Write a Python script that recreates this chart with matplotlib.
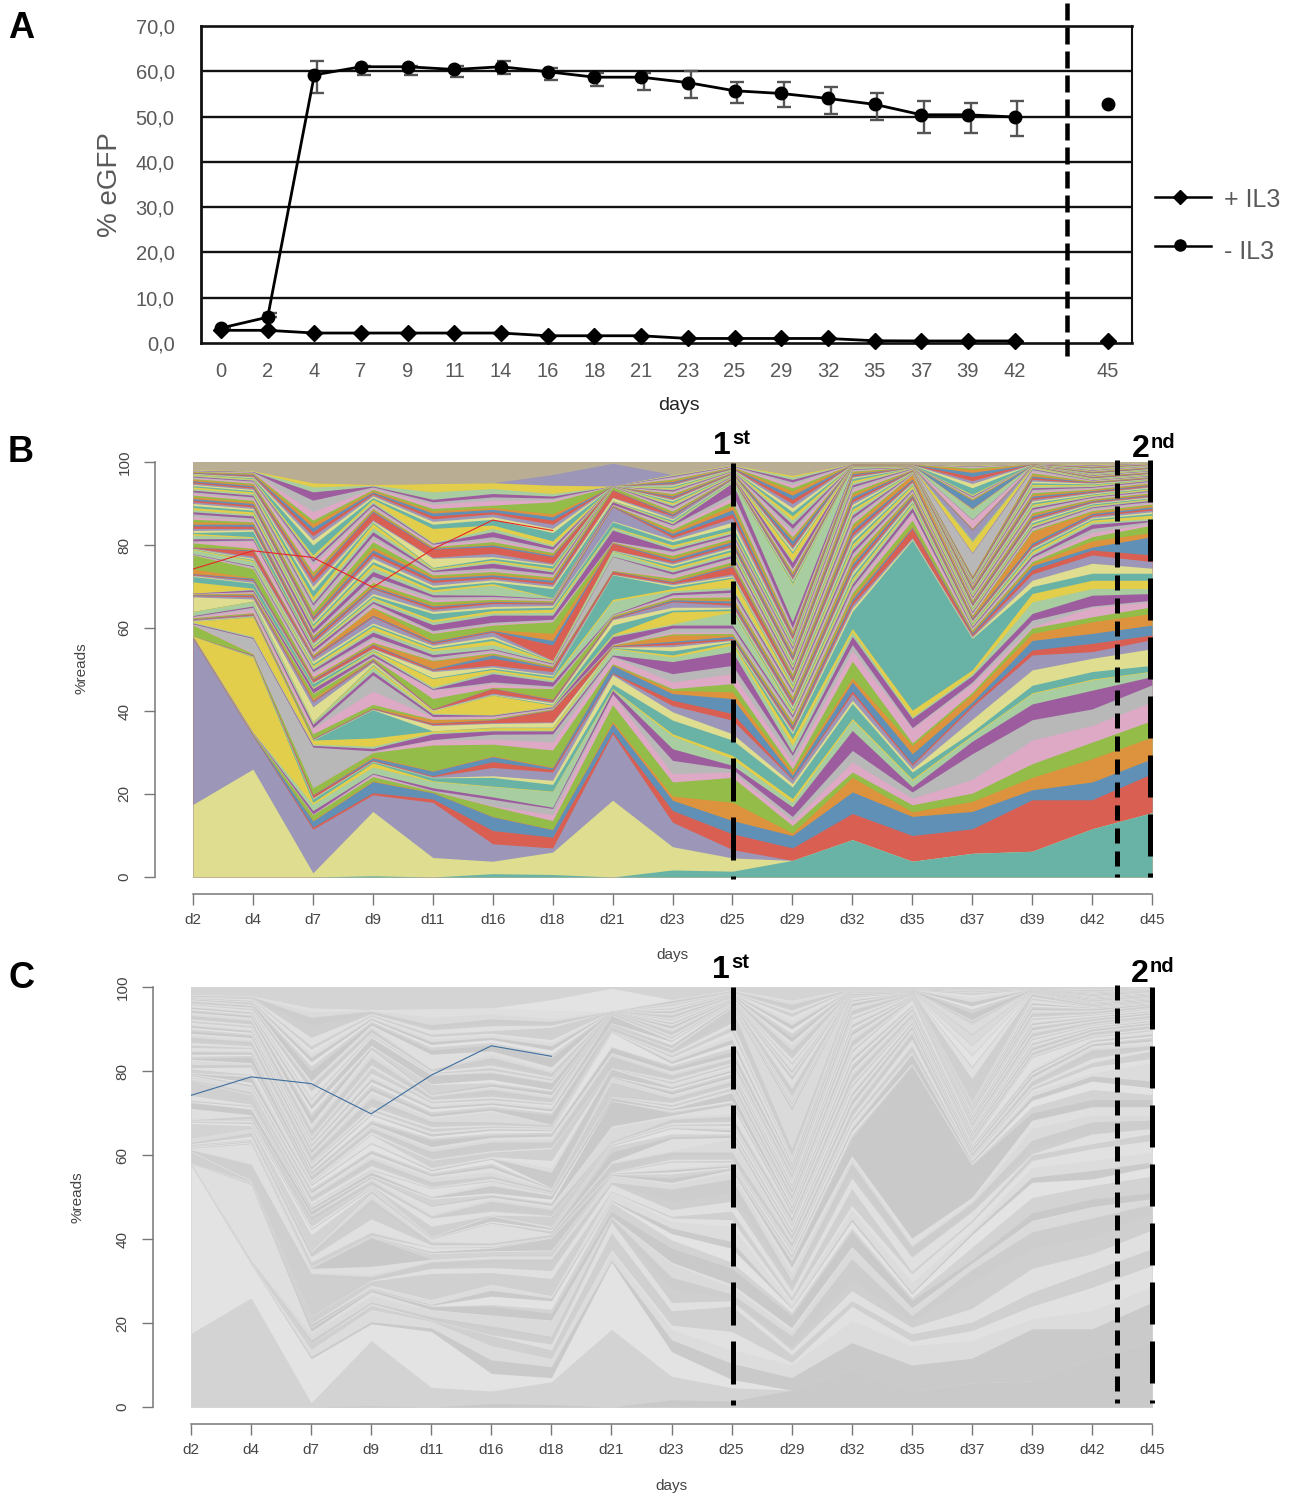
import numpy as np
import matplotlib
matplotlib.use("Agg")
import matplotlib.pyplot as plt
from matplotlib.lines import Line2D

plt.rcParams['font.family'] = ['Liberation Sans', 'DejaVu Sans']
plt.rcParams['lines.scale_dashes'] = False

# ---------------- Panel A data ----------------
day_labels_a = ['0','2','4','7','9','11','14','16','18','21','23','25','29','32','35','37','39','42','45']
slot_a = [0,1,2,3,4,5,6,7,8,9,10,11,12,13,14,15,16,17,19]
minus_il3 = [3.3,5.7,59.2,61,61,60.4,61,59.9,58.7,58.7,57.5,55.7,55.1,54,52.7,50.4,50.4,49.9,52.8]
plus_il3 = [2.8,2.8,2.2,2.2,2.2,2.2,2.2,1.6,1.6,1.6,1.0,1.0,1.0,1.0,0.5,0.45,0.45,0.45,0.45]
err_hi = [3.3,6.6,62.3,61.2,61.2,61.2,62.3,60.7,59.7,59.7,60,57.7,57.7,56.5,55.3,53.5,52.9,53.5,52.8]
err_lo = [3.3,5.7,55.1,59.2,59.2,58.7,59.4,58.1,56.8,55.9,54,52.9,52.2,50.5,49.3,46.3,46.3,45.8,52.8]

# ---------------- Panels B / C data ----------------
days = ['d2','d4','d7','d9','d11','d16','d18','d21','d23','d25','d29','d32','d35','d37','d39','d42','d45']
# cumulative tops of the stacked clones at each day, one line per colour cycle
d2 = [0,17.5,57.5,57.6,57.7,57.75,57.8,57.85,57.9,57.95,58,58,
 58,58,58,58,58,58.1,60.7,60.9,61,61.2,61.4,61.6,
 61.6,61.8,62,62.1,62.2,62.3,62.5,62.7,62.8,63,63.9,64,
 64,67.5,67.8,67.9,68,68.1,68.2,68.3,68.3,68.4,68.4,71.1,
 72.4,72.6,72.8,73,73.1,74.2,77.6,77.7,77.8,77.9,78.8,79,
 79.1,79.2,79.3,79.4,79.5,79.6,80.5,80.8,81,81.5,82.4,82.8,
 83,83.5,84,84.6,85,85.6,86.2,86.8,87.5,88,88.5,89,
 89.5,90,90.4,90.8,91.2,91.6,92,92.4,92.8,93.2,93.6,94,
 94.3,94.6,94.9,95.2,95.5,95.8,96,96.2,96.4,96.6,96.8,97,
 97.1,97.2,97.3,97.4,97.5,97.6,97.7,97.8,97.9,98,98.1,98.2,
 98.2,100]
d4 = [0,26,34,34.1,34.2,34.3,34.5,34.6,34.7,34.8,34.9,53,
 53.1,53.2,53.3,53.4,53.5,53.6,53.8,54,57.5,57.7,58,62.7,
 62.8,62.9,63.1,63.3,63.4,63.5,63.7,64.5,65,65.3,66.3,66.4,
 66.5,67,67.5,67.8,68,68.3,68.4,68.6,68.8,69.2,69.4,69.6,
 70.8,71,71.5,71.7,72,72.1,74.3,74.5,74.8,75,76,76.3,
 76.5,76.8,77.3,78.6,78.8,79,79.2,80.9,81.2,81.5,81.8,82,
 83.3,83.7,84,84.5,85,85.3,85.6,86,86.5,87,87.4,88,
 88.4,88.8,89.2,89.6,90,90.4,90.8,91.2,91.6,92,92.4,92.8,
 93.1,93.4,93.7,94,94.3,94.6,94.9,95.2,95.4,95.6,95.8,96,
 96.2,96.4,96.6,96.8,97,97.2,97.4,97.5,97.6,97.7,97.8,97.9,
 97.9,100]
d7 = [0,1,11.5,12,13.5,13.7,15,15.1,15.2,16,17.5,18,
 18.8,19,19.1,19.7,19.8,19.9,21.5,21.6,31.3,31.7,32,33,
 33,33.1,33.2,33.3,33.4,33.5,34.5,35.8,36,36.8,37.2,37.3,
 37.4,41,42.2,42.4,42.5,43,44.2,44.3,44.4,45.4,45.6,45.8,
 46.6,46.8,47,47.5,47.7,48,48.2,49,49.5,50,50.5,51,
 51.4,52,52.7,53,53.2,53.4,53.6,54,54.3,55,55.2,55.5,
 55.8,56.2,56.6,57.2,57.6,57.9,58.2,58.5,58.8,59.7,60.1,60.5,
 61,61.5,62,62.4,62.8,63.2,64,64.5,65.5,66,66.6,67.5,
 69,70,71,72,72.4,73,73.5,75.2,76,76.6,77,77.6,
 80,81.2,82.2,83.2,84.2,85.2,86,88,90.8,92.8,94,95,
 95,100]
d9 = [0.3,15.8,19.8,20.3,23,23.2,24.2,24.6,24.8,25,26.5,27.5,
 27.8,27.9,28,28.2,28.7,29,30,30.2,30.4,31,31.5,33.5,
 40.3,40.4,40.5,40.6,40.7,40.8,41.6,44.8,48.7,49.5,50.5,51,
 51.2,51.7,52,52.2,52.4,52.6,52.8,53,53.3,53.8,54.3,54.6,
 54.8,55,55.2,55.9,56.1,56.3,56.6,57.5,58,59,59.6,60.4,
 60.8,61.2,62.7,62.9,63.1,64.8,65,65.5,66,66.4,67,67.4,
 67.8,68.3,69.5,69.7,70,70.5,71,71.6,72.5,73.6,74.6,75.4,
 76,76.8,77.5,78.2,78.8,79.5,80.8,81.5,82.3,83.2,84.2,85.2,
 85.5,85.8,86.1,87.9,88.2,88.5,88.8,89.2,89.6,90,90.5,91,
 91.4,91.8,92.2,92.5,92.8,93.1,93.4,93.7,94,94.2,94.4,94.6,
 94.6,100]
d11 = [0,4.7,18,18.8,20.3,20.4,20.7,20.8,20.9,21.5,23,23.2,
 23.9,24,24.2,24.4,25.5,25.6,31.8,33,33.1,34.5,34.8,35.2,
 35.2,36.5,36.7,37,37.1,37.9,38,38.6,38.7,39.2,39.5,40,
 40,40.2,40.3,40.4,40.5,40.6,43,45,45.2,45.4,45.8,47.8,
 48,49.5,49.8,50,50.2,52,52.2,52.4,53,53.6,54.5,55,
 55.3,55.8,56.2,56.5,56.8,57,58.7,59,59.4,60.8,61.5,62,
 63.5,64,64.5,65,65.3,65.6,66.3,66.8,67.5,68,68.7,69.2,
 69.8,70.3,71,71.5,72,72.4,72.8,73.2,73.6,73.9,74.2,74.4,
 74.6,76.8,77,79,79.2,79.4,79.6,80,80.2,80.4,80.6,84,
 85,85.7,86.3,87,87.7,88.2,88.8,89.8,90.4,91,92.8,94.8,
 94.8,100]
d16 = [.8,3.8,8,11.2,14.5,14.6,17,17.2,18.7,19.3,21.8,21.9,
 24,24.4,26.4,27.8,29,29.2,32,33.2,34.4,35.2,35.4,36,
 36.1,37,37.2,37.8,37.9,38,38.2,38.6,38.8,39,39.1,43.8,
 43.9,44,44.3,45.4,45.5,45.6,45.7,46.6,47,49,49.5,50,
 50.3,50.6,51,52.7,53.5,53.7,54,54.4,54.8,55,56,57,
 57.5,58,59,59.2,59.4,59.6,60.7,61,61.4,63.1,63.6,64.2,
 64.7,65.2,65.9,66.2,66.4,66.6,66.9,67.2,67.6,67.9,70.3,70.7,
 71.1,71.6,72,72.4,72.8,73.1,73.6,74,74.5,75.6,76,76.4,
 76.8,77.2,78,79.6,80,80.2,80.8,81.4,82,83.2,84,84.8,
 86.2,86.8,87.5,88,88.6,89,89.6,90.8,91.6,92.4,93.6,95,
 95,100]
d18 = [.6,6,7,9.6,11.4,11.5,13.6,15,16.5,16.8,20.6,20.7,
 22.3,23.3,25.3,25.9,26.3,26.5,30.6,32.5,34.5,35.2,35.4,36,
 36.1,37.2,37.4,40.2,40.3,40.4,40.5,40.6,40.8,41,41.2,41.4,
 41.6,42,42.3,42.6,42.8,43,45.4,45.6,46,47,47.5,48,
 48.4,48.7,49.5,50.3,50.5,50.7,50.9,51.1,51.3,51.5,51.7,51.9,
 52,52.1,52.2,55.9,57,58.7,61.5,61.8,62.1,63.1,63.8,64.5,
 65,65.4,65.8,66,66.2,66.4,66.6,66.8,67,67.1,67.2,67.3,
 69.5,70,70.5,71,71.5,72,72.3,72.6,73,73.5,74,74.4,
 75,75.3,75.6,77.2,77.5,77.8,78.2,78.6,79,79.6,80,81,
 83,84,85,86,86.8,87.5,90.4,90.9,91.3,91.8,92.4,94.4,
 97,100]
d21 = [0,18.5,34.5,35,37,37.5,41.5,44,44.1,45,45.2,45.4,
 46.5,48.7,49,49.2,51,51.2,51.4,53,53.2,53.5,55,55.2,
 55.3,55.4,55.5,55.6,55.7,55.8,55.9,56,56.1,57.9,58.2,58.5,
 60.7,62,62.2,62.4,62.6,62.8,63,63.1,63.2,63.3,66.5,66.9,
 72.8,72.9,73,73.6,73.7,73.8,73.9,74,77.2,77.3,78.4,78.5,
 78.6,78.7,78.8,80.4,80.5,80.6,80.7,80.8,80.9,83.6,84.2,84.4,
 85.6,85.8,89.2,89.3,89.4,89.5,89.6,89.7,89.8,90.4,90.5,90.6,
 90.7,91.4,91.5,93.2,93.3,93.4,94,94.1,94.1,94.2,94.2,94.2,
 94.2,94.2,94.2,94.2,94.2,94.2,94.2,94.2,94.2,94.2,94.2,94.2,
 94.2,94.2,94.2,94.2,94.2,94.2,94.2,94.2,94.2,94.2,94.2,94.2,
 99.7,100]
d23 = [1.7,7.3,13.2,16,18.5,19.5,22.9,24.9,28.1,30.9,34,34.5,
 37.8,39.8,41.3,42.6,44.2,45,45.4,47,49,51.9,53,53.5,
 54.5,55.5,56,56.5,56.8,58.3,58.6,59,60,60.7,61,63.9,
 64.3,65,66.3,66.5,66.8,67,67.3,67.7,68,68.5,69,69.5,
 70,70.4,70.7,71,71.2,71.5,72,72.5,73,73.5,74,74.5,
 75,75.4,75.8,76.2,76.6,77,77.5,78,78.5,79,79.5,80,
 80.8,81.3,81.8,82.3,82.8,83.3,83.8,84.3,84.8,85.1,85.4,85.6,
 86,86.3,87,87.2,87.5,87.8,88.2,88.6,89,89.4,89.8,90.2,
 90.6,90.9,91.2,91.5,91.8,92.1,92.4,92.7,93,93.3,93.6,93.9,
 94.2,94.5,94.8,95,95.3,95.6,95.9,96.2,96.5,96.7,96.9,97,
 97,100]
d25 = [1.4,4.6,6.6,10.4,13.6,18,24,25.3,26,26.9,28.5,29.3,
 33,34.5,37.8,39.4,43,44.6,46.6,49,51,54.3,55.9,56.5,
 56.7,57,57.2,57.5,58,58.3,58.7,59,60,60.7,63.9,64.2,
 64.6,65,65.5,66,66.5,67,67.5,68,68.6,69.2,69.8,72,
 72.3,72.6,73,74.8,75.1,75.4,76,76.5,77,77.5,78,78.5,
 79,79.4,79.8,80.2,80.8,81.2,81.6,82,82.4,82.8,83.2,83.6,
 84.5,85.5,86.5,87.5,88.5,89.5,90.5,91.5,92.5,95,95.3,95.4,
 95.6,95.8,96,96.1,96.2,96.3,96.4,96.5,96.6,96.7,96.8,96.9,
 97,97.1,97.2,97.3,97.4,97.5,97.6,97.7,97.8,97.9,98,98.1,
 98.2,98.3,98.4,98.5,98.6,98.7,98.8,98.9,99,99.1,99.2,99.3,
 99.3,100]
d29 = [4,4,4,7,10,10.6,12.4,13.6,14.6,16.9,18,18.9,
 21.7,22.5,23.5,23.7,24.5,25.3,26.1,27.7,29.3,30,31.7,33.3,
 34.5,35,35.5,36,36.5,37,37.5,38,38.5,39,39.5,40,
 40.5,41,41.5,42,42.5,43,43.5,44,44.5,45,45.5,46,
 46.4,46.8,47.2,47.7,48.1,48.5,49,49.4,49.8,50.3,50.7,51.1,
 51.5,52,52.4,52.8,53.3,53.7,54.1,54.5,55,55.4,55.8,56.2,
 56.7,57.1,57.5,58,58.4,58.8,59.2,59.7,60.1,61.5,70.4,70.7,
 71.2,71.6,72,72.4,72.8,73.2,73.6,74,74.4,75.8,76.2,78,
 78.4,79,79.5,80,81,81.5,82,83,84,85,86,87,
 88,89,90,91,92,93,93.8,94.5,95.2,95.8,96.4,96.8,
 96.8,100]
d32 = [9,9,9,15.3,20.5,24,25.3,27.7,30.5,35.3,37.8,38.2,
 41.8,42.6,44.2,44.8,47,48,52,54.5,56,58,59,59.9,
 64,64.8,65.6,66.3,67,67.7,68.5,69.2,69.9,70.6,71.3,72,
 72.7,73.4,74,74.7,75.4,76.1,76.8,77.4,78,78.8,79.5,80.2,
 80.9,81.6,82.3,83,83.7,84.4,85.1,85.8,86.5,87.2,87.9,88.6,
 89.2,89.8,90.4,91,91.6,92.2,92.8,93.4,94,94.5,95,95.5,
 96,96.3,96.6,96.9,97.2,97.5,97.8,98,98.2,98.4,98.6,98.7,
 98.75,98.8,98.85,98.9,98.95,99,99.02,99.04,99.06,99.08,99.1,99.12,
 99.14,99.16,99.18,99.2,99.22,99.24,99.26,99.28,99.3,99.32,99.34,99.36,
 99.38,99.4,99.42,99.44,99.46,99.48,99.5,99.52,99.54,99.56,99.58,99.6,
 99.6,100]
d35 = [3.8,3.8,3.8,10,14.6,15.7,17.4,19,20.5,21.7,23.3,23.6,
 25.3,26,26.9,27.3,29.7,31.7,32.3,35.7,36,38.2,38.6,40.2,
 81.2,81.5,81.8,84,84.3,84.6,86,87.6,88,89,89.6,90,
 90.4,90.8,91.2,91.6,92,92.3,92.6,92.9,93.2,93.5,93.8,94.4,
 94.7,95,95.3,95.6,95.9,96.9,97,97.1,97.2,97.3,97.4,97.5,
 97.6,97.7,97.8,97.9,98,98.1,98.2,98.3,98.4,98.5,98.55,98.6,
 98.62,98.64,98.66,98.68,98.7,98.72,98.74,98.76,98.78,98.8,98.82,98.84,
 98.86,98.88,98.9,98.92,98.94,98.96,98.98,99,99.02,99.04,99.06,99.08,
 99.1,99.12,99.14,99.16,99.18,99.2,99.22,99.24,99.26,99.28,99.3,99.32,
 99.34,99.36,99.38,99.4,99.42,99.44,99.46,99.48,99.5,99.52,99.54,99.56,
 99.56,100]
d37 = [5.7,5.7,5.7,11.6,15.8,18.2,20.2,23.5,29.7,32.7,34,34.2,
 35,38,41,41.5,42.2,44,44.5,46.5,47,48.5,49,49.9,
 57.5,57.8,58.1,58.5,58.9,59.2,59.5,59.8,60.1,60.4,60.7,61,
 61.3,61.6,61.9,62.2,62.5,62.8,63.1,63.4,63.7,64,64.3,64.6,
 64.9,65.2,65.5,65.8,66.1,66.4,66.7,67,67.3,67.6,67.9,68.2,
 68.5,68.8,69.1,69.4,69.7,70,70.2,70.4,70.6,70.8,71,71.2,
 71.4,71.6,71.8,72,72.2,72.4,72.6,72.8,78,78.1,78.2,80.8,
 81,81.1,83.6,83.7,83.8,83.9,84,86,86.1,86.2,88.4,88.5,
 88.6,88.7,88.8,88.9,90.8,91,91.2,91.4,91.6,91.8,92,92.2,
 93.8,94.8,95.5,96.5,97.5,98.2,98.6,98.8,98.9,99,99.1,99.2,
 99.2,100]
d39 = [6.2,6.2,6.2,18.6,21,24,27.3,33,37.9,41.7,44.2,44.4,
 46.2,49.9,53.5,54.7,57,58.7,60,60.3,61.9,63.5,66.3,68.3,
 70,71.5,73,74,75,75.5,76,76.5,77,77.5,78,78.5,
 79,79.3,79.6,80,80.5,83.2,83.5,83.8,84.1,84.4,84.7,85,
 85.4,85.8,86.2,86.6,87,87.4,87.8,88.2,88.6,89,89.4,89.8,
 90.2,90.6,91,91.4,91.8,92.2,92.6,93,93.4,93.8,94.2,94.6,
 95,95.4,95.8,96.2,96.6,97,97.4,97.8,98.2,98.4,98.6,98.8,
 98.85,98.9,98.95,99,99.02,99.04,99.06,99.08,99.1,99.12,99.14,99.16,
 99.18,99.2,99.22,99.24,99.26,99.28,99.3,99.32,99.34,99.36,99.38,99.4,
 99.42,99.44,99.46,99.48,99.5,99.52,99.54,99.56,99.58,99.6,99.62,99.64,
 99.64,100]
d42 = [11.6,11.6,11.6,18.6,22.9,28.5,32.5,36.5,40.5,45,47.5,47.7,
 49.5,52.7,54.3,56.3,58.7,61.5,62.7,65,65.3,67.9,69.5,71.5,
 73.2,75.6,77.6,78.8,79.5,81,82,83,84,85,85.5,86,
 86.3,86.6,87,87.3,87.6,88,88.3,88.6,89,89.2,89.4,89.6,
 89.9,90.1,90.3,90.5,90.7,90.9,91.1,91.3,91.5,91.7,91.9,92.1,
 92.3,92.5,92.7,92.9,93.1,93.3,93.5,93.7,93.9,94.1,94.3,94.5,
 94.7,94.9,95,95.1,95.2,95.3,95.4,95.5,95.6,95.7,95.8,95.9,
 96,96.1,96.2,96.3,96.4,96.5,96.6,96.7,96.8,96.9,97,97.1,
 97.2,97.3,97.4,97.5,97.6,97.7,97.8,97.9,98,98.1,98.2,98.3,
 98.4,98.5,98.6,98.7,98.8,98.9,99,99.1,99.2,99.3,99.4,99.5,
 99.5,100]
d45 = [15.5,15.5,15.5,24.9,28.5,33.7,37.7,42.2,46.3,48.3,49.5,49.6,
 51,55,57.2,58.3,60.7,63.5,65.1,66.3,66.7,68.3,69.5,71.5,
 73.2,74.4,76,77.6,82,83,84.8,85.3,85.7,86,86.4,87.2,
 87.6,88,88.4,88.8,89.2,89.6,89.9,90.2,90.5,90.8,91,91.2,
 91.4,91.6,91.8,92,92.2,92.4,92.6,92.8,93,93.2,93.4,93.6,
 93.8,94,94.2,94.4,94.6,94.8,95,95.2,95.4,95.6,95.7,95.8,
 95.9,96,96.1,96.2,96.3,96.4,96.5,96.6,96.7,96.8,96.9,97,
 97.1,97.2,97.3,97.4,97.5,97.6,97.7,97.8,97.9,98,98.1,98.2,
 98.3,98.4,98.5,98.6,98.7,98.8,98.9,99,99.1,99.15,99.2,99.25,
 99.3,99.35,99.4,99.45,99.5,99.55,99.6,99.65,99.7,99.75,99.8,99.85,
 99.85,100]
day_columns = [d2,d4,d7,d9,d11,d16,d18,d21,d23,d25,d29,d32,d35,d37,d39,d42,d45]

# the one clone followed through the experiment (thin red in B, blue in C)
tracked_clone = [74.2,78.6,77,69.8,79,86,83.5]

colour_cycle = ['#69B3A6','#DEDD90','#9C97B8','#D95F52','#6190B6','#DD933D',
                '#93BC48','#DDA9C5','#B8B8B8','#9C5C9E','#A8CDA0','#E2CE4A']
grey_cycle = ['#C9C9C9','#D3D3D3','#E3E3E3','#CACACA','#DCDCDC','#E1E1E1',
              '#D0D0D0','#E0E0E0','#CFCFCF','#CDCDCD','#DADADA','#DFDFDF']
wedge_colour, top_colour = '#9C97B8', '#B9AE93'
wedge_grey, top_grey = '#E3E3E3', '#D4D4D4'

W, H = 1295, 1495
fig = plt.figure(figsize=(W/100, H/100), dpi=100, facecolor='white')

def box(l, t, r, b):
    return [l/W, 1-b/H, (r-l)/W, (b-t)/H]

def txt(x, y, s, **kw):
    kw.setdefault('ha', 'center')
    kw.setdefault('va', 'center')
    fig.text(x/W, 1-y/H, s, **kw)

def vline(x, y0, y1, dash, gap, lw=5):
    fig.add_artist(Line2D([x/W, x/W], [1-y0/H, 1-y1/H], transform=fig.transFigure, color='black',
                          lw=lw*0.72, dashes=(dash*0.72, gap*0.72), dash_capstyle='butt', zorder=10))

# ---------- Panel A ----------
ax = fig.add_axes(box(201, 26, 1132, 343))
ax.set_xlim(-0.428, 19.514)
ax.set_ylim(0, 70)
ax.set_yticks(range(0, 80, 10))
ax.set_yticklabels([f'{v},0' for v in range(0, 80, 10)], fontsize=14.5, color='#595959')
ax.set_xticks(slot_a)
ax.set_xticklabels(day_labels_a, fontsize=14.5, color='#595959')
ax.tick_params(length=0)
ax.tick_params(axis='y', pad=19)
ax.tick_params(axis='x', pad=14)
for v in range(10, 70, 10):
    ax.axhline(v, color='#111111', lw=1.7, zorder=1)
for side, lw in (('left', 2.0), ('top', 1.9), ('bottom', 1.9), ('right', 1.5)):
    ax.spines[side].set_linewidth(lw)
    ax.spines[side].set_color('#111111')
xs = np.array(slot_a, float)
hi = np.array(err_hi); lo = np.array(err_lo); mid = np.array(minus_il3)
ax.errorbar(xs[:18]+0.06, mid[:18], yerr=[mid[:18]-lo[:18], hi[:18]-mid[:18]], fmt='none',
            ecolor='#555555', elinewidth=1.7, capsize=5, capthick=1.7, zorder=2, clip_on=False)
ax.plot(xs[:18], mid[:18], '-', color='black', lw=2, zorder=3)
ax.plot(xs, mid, 'o', color='black', ms=9, zorder=4, clip_on=False, ls='none')
ax.plot(xs[:18], plus_il3[:18], '-', color='black', lw=2, zorder=3, clip_on=False)
ax.plot(xs, plus_il3, 'D', color='black', ms=8.5, zorder=4, clip_on=False, ls='none')
txt(110, 185, '% eGFP', rotation=90, fontsize=20, color='#595959')
txt(679, 405, 'days', fontsize=14, color='#222222')
vline(1067, 3, 361, 17, 7, lw=4.5)
# legend
for y, m, ms in ((197, 'D', 7), (246, 'o', 8)):
    fig.add_artist(Line2D([1155/W, 1211/W], [1-y/H, 1-y/H], transform=fig.transFigure, color='black', lw=1.8))
    fig.add_artist(Line2D([1180/W], [1-(y-(0 if m == 'D' else 1))/H], transform=fig.transFigure, color='black',
                          marker=m, ms=ms, ls='none'))
txt(1224, 200, '+ IL3', ha='left', fontsize=18, color='#595959')
txt(1224, 252, '- IL3', ha='left', fontsize=18, color='#595959')

# ---------- Panels B and C ----------
tops = np.maximum.accumulate(np.array(day_columns, float).T, axis=0)
x = np.arange(len(days))

def stack_panel(rect, colours, line_colour, line_w, axis_offset_left, axis_offset_bottom):
    a = fig.add_axes(box(*rect))
    a.set_xlim(0, len(days)-1)
    a.set_ylim(0, 100)
    for i in range(tops.shape[0]-1, -1, -1):
        a.fill_between(x, 0, tops[i], color=colours[i], lw=0, zorder=2)
    a.plot(x[:len(tracked_clone)], tracked_clone, color=line_colour, lw=line_w, zorder=3)
    a.spines['top'].set_visible(False)
    a.spines['right'].set_visible(False)
    a.spines['left'].set_position(('outward', axis_offset_left*0.72))
    a.spines['bottom'].set_position(('outward', axis_offset_bottom*0.72))
    a.spines['left'].set_bounds(0, 100)
    for s in ('left', 'bottom'):
        a.spines[s].set_color('#777777')
        a.spines[s].set_linewidth(1.1)
    a.set_yticks(range(0, 101, 20))
    a.set_xticks(x)
    a.set_xticklabels(days, fontsize=11, color='#444444')
    a.set_yticklabels([str(v) for v in range(0, 101, 20)], rotation=90, va='center', fontsize=11, color='#444444')
    a.tick_params(axis='both', length=8, width=1.0, color='#777777')
    a.tick_params(axis='y', pad=9)
    a.tick_params(axis='x', pad=6)
    return a

colours_b = [colour_cycle[i % 12] for i in range(120)] + [wedge_colour, top_colour]
colours_c = [grey_cycle[i % 12] for i in range(120)] + [wedge_grey, top_grey]

stack_panel((193, 462, 1152, 877), colours_b, '#E8262A', 0.8, 38, 17)
stack_panel((191, 987, 1152, 1407), colours_c, '#3F6F9F', 0.8, 38, 17)

txt(82, 668, '%reads', rotation=90, fontsize=11, color='#444444')
txt(672, 955, 'days', fontsize=11, color='#444444')
txt(78, 1197, '%reads', rotation=90, fontsize=11, color='#444444')
txt(671, 1486, 'days', fontsize=11, color='#444444')

vline(733, 463, 879, 43, 16)
vline(1117, 460, 877, 15, 8)
vline(1150, 460, 877, 42, 17)
vline(733, 987, 1405, 43, 16)
vline(1117, 985, 1403, 15, 8)
vline(1152, 987, 1403, 42, 17)

for xx, yy, big, small in ((722, 446, '1', 'st'), (1141, 449, '2', 'nd'), (721, 970, '1', 'st'), (1140, 974, '2', 'nd')):
    txt(xx, yy, big, fontsize=23, fontweight='bold', color='black')
    txt(xx+10, yy-7, small, ha='left', fontsize=14.5, fontweight='bold', color='black')

for yy, s in ((28, 'A'), (453, 'B'), (978, 'C')):
    txt(8, yy, s, ha='left', fontsize=26, fontweight='bold', color='black')

fig.savefig('out.png', dpi=100, facecolor='white')
